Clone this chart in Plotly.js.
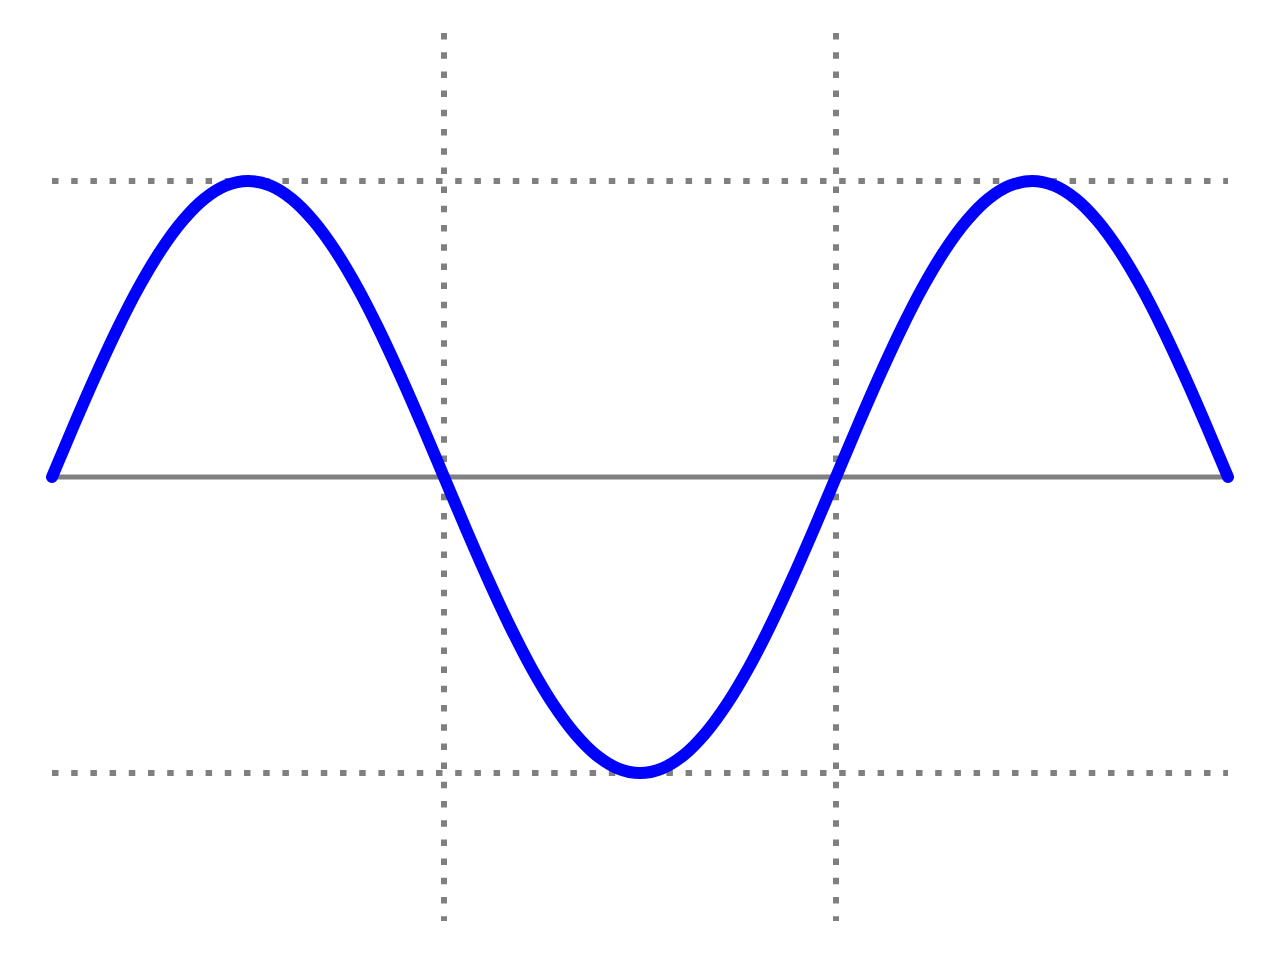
<!DOCTYPE html>
<html>
<head>
<meta charset="utf-8">
<script src="https://cdn.plot.ly/plotly-3.0.1.min.js"></script>
<style>
html, body { margin: 0; padding: 0; background: #ffffff; }
#chart { width: 1280px; height: 960px; }
.scatterlayer .trace:last-child .js-line { stroke-linecap: round; stroke-linejoin: round; }
</style>
</head>
<body>
<div id="chart"></div>
<script>
// Phase (degrees) and wave values
const phase = [0,10,20,30,40,50,60,70,80,90,100,110,120,130,140,150,160,170,180,
  190,200,210,220,230,240,250,260,270,280,290,300,310,320,330,340,350,360,
  370,380,390,400,410,420,430,440,450,460,470,480,490,500,510,520,530,540];
const wave = [0,0.174,0.342,0.5,0.643,0.766,0.866,0.94,0.985,1,0.985,0.94,0.866,0.766,0.643,0.5,0.342,0.174,0,
  -0.174,-0.342,-0.5,-0.643,-0.766,-0.866,-0.94,-0.985,-1,-0.985,-0.94,-0.866,-0.766,-0.643,-0.5,-0.342,-0.174,0,
  0.174,0.342,0.5,0.643,0.766,0.866,0.94,0.985,1,0.985,0.94,0.866,0.766,0.643,0.5,0.342,0.174,0];

// Reference lines
const xSpan = [0, 540];
const baseline = [0, 0];
const upperLevel = [1, 1];
const lowerLevel = [-1, -1];
const verticalAt = [180, 360];
const ySpan = [1.5, -1.5];

const gray = '#808080';
const dotted = '6.5px,12.7px';

const traces = [
  { x: xSpan, y: baseline, mode: 'lines', line: { color: gray, width: 5 }, hoverinfo: 'skip' },
  { x: xSpan, y: upperLevel, mode: 'lines', line: { color: gray, width: 6, dash: dotted }, hoverinfo: 'skip' },
  { x: xSpan, y: lowerLevel, mode: 'lines', line: { color: gray, width: 6, dash: dotted }, hoverinfo: 'skip' },
  { x: [verticalAt[0], verticalAt[0]], y: ySpan, mode: 'lines', line: { color: gray, width: 6, dash: dotted }, hoverinfo: 'skip' },
  { x: [verticalAt[1], verticalAt[1]], y: ySpan, mode: 'lines', line: { color: gray, width: 6, dash: dotted }, hoverinfo: 'skip' },
  { x: phase, y: wave, mode: 'lines', line: { color: '#0000ff', width: 12, shape: 'spline', smoothing: 1 }, hoverinfo: 'skip' }
];

const axisCommon = { showgrid: false, zeroline: false, showticklabels: false, showline: false, ticks: '', fixedrange: true };

// plot area widened by 12px each side so the round line caps are not clipped
const pad = 12 * 540 / 1176;

const layout = {
  width: 1280, height: 960,
  margin: { l: 40, r: 40, t: 33, b: 39, pad: 0 },
  paper_bgcolor: '#ffffff', plot_bgcolor: '#ffffff',
  showlegend: false,
  xaxis: Object.assign({ range: [0 - pad, 540 + pad] }, axisCommon),
  yaxis: Object.assign({ range: [-1.5, 1.5] }, axisCommon)
};

Plotly.newPlot('chart', traces, layout, { staticPlot: true, displayModeBar: false });
</script>
</body>
</html>
